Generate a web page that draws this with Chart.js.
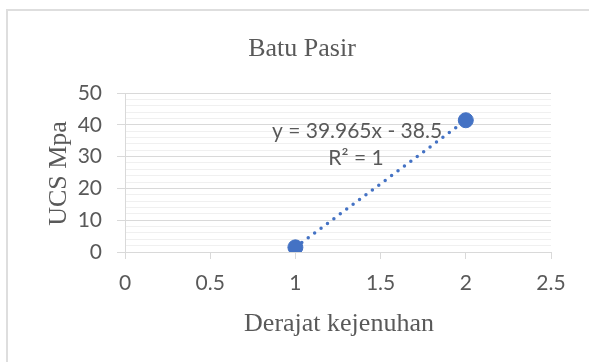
<!DOCTYPE html>
<html>
<head>
<meta charset="utf-8">
<script src="https://cdn.jsdelivr.net/npm/chart.js@4.4.0/dist/chart.umd.min.js"></script>
<style>
  html, body { margin: 0; padding: 0; background: #fff; }
  #wrap { position: relative; width: 589px; height: 362px; overflow: hidden; }
  #frame { position: absolute; left: 6px; top: 9px; width: 700px; height: 500px;
           border-left: 2px solid #dedede; border-top: 2px solid #dedede; }
  canvas { position: absolute; left: 0; top: 0; }
</style>
</head>
<body>
<div id="wrap">
  <div id="frame"></div>
  <canvas id="ucsChart" width="589" height="362"></canvas>
</div>
<script>
// data
const saturation = [1, 2];
const ucsValues = [1.465, 41.43];
const trendLabel = 'y = 39.965x - 38.5';
const r2Label = 'R² = 1';
const xTicks = [0, 0.5, 1, 1.5, 2, 2.5];
const yMajorTicks = [0, 10, 20, 30, 40, 50];

const points = saturation.map((x, i) => ({ x: x, y: ucsValues[i] }));

const labelFont = "Lato, 'Open Sans', sans-serif";
const serifFont = "'Liberation Serif', 'Times New Roman', serif";
const textGray = '#595959';

// titles and the trendline equation, drawn on the canvas
const chartTexts = {
    id: 'chartTexts',
    afterDatasetsDraw(chart) {
        const ctx = chart.ctx;
        const area = chart.chartArea;
        ctx.save();
        ctx.fillStyle = textGray;
        ctx.textAlign = 'center';
        ctx.textBaseline = 'alphabetic';

        ctx.font = '26px ' + serifFont;
        ctx.fillText('Batu Pasir', 302, 56);
        ctx.fillText('Derajat kejenuhan', 339, 331);
        ctx.save();
        ctx.translate(66, (area.top + area.bottom) / 2 + 1);
        ctx.rotate(-Math.PI / 2);
        ctx.fillText('UCS Mpa', 0, 0);
        ctx.restore();

        ctx.font = '21px ' + labelFont;
        ctx.fillText(trendLabel, area.left + 232, 138);
        ctx.fillText(r2Label, area.left + 231, 165);
        ctx.restore();
    }
};

const ctx = document.getElementById('ucsChart').getContext('2d');
const ucsChart = new Chart(ctx, {
    type: 'scatter',
    data: {
        datasets: [{
            label: 'Trend',
            data: points,
            showLine: true,
            borderColor: '#4472c4',
            borderWidth: 3.5,
            borderDash: [0, 8],
            borderCapStyle: 'round',
            pointRadius: 0,
            order: 2
        }, {
            label: 'UCS',
            data: points,
            backgroundColor: '#4472c4',
            borderColor: '#4472c4',
            pointRadius: 7.5,
            order: 1
        }]
    },
    options: {
        responsive: false,
        animation: false,
        layout: {
            padding: { left: 0, right: 38, top: 93, bottom: 0 }
        },
        plugins: {
            legend: { display: false },
            tooltip: { enabled: false },
            title: { display: false }
        },
        scales: {
            x: {
                type: 'linear',
                min: 0,
                max: 2.5,
                afterBuildTicks: function(scale) {
                    scale.ticks = xTicks.map(v => ({ value: v }));
                },
                afterFit: function(scale) { scale.height = 110; },
                border: { color: '#d9d9d9', width: 1 },
                grid: {
                    drawOnChartArea: false,
                    drawTicks: true,
                    tickLength: 7,
                    tickColor: '#d9d9d9'
                },
                ticks: {
                    color: textGray,
                    font: { family: labelFont, size: 21 },
                    padding: 12,
                    callback: function(value) { return String(value); }
                }
            },
            y: {
                type: 'linear',
                min: 0,
                max: 50,
                afterBuildTicks: function(scale) {
                    const list = [];
                    for (let v = 0; v <= 50; v += 2) list.push({ value: v });
                    scale.ticks = list;
                },
                afterFit: function(scale) { scale.width = 125; },
                border: { color: '#d9d9d9', width: 1 },
                grid: {
                    color: function(c) {
                        return yMajorTicks.includes(c.tick.value) ? '#d9d9d9' : '#f0f0f0';
                    },
                    tickColor: function(c) {
                        return yMajorTicks.includes(c.tick.value) ? '#d9d9d9' : 'rgba(0,0,0,0)';
                    },
                    tickLength: 8
                },
                ticks: {
                    color: textGray,
                    font: { family: labelFont, size: 21 },
                    padding: 15,
                    autoSkip: false,
                    callback: function(value) {
                        return yMajorTicks.includes(value) ? String(value) : '';
                    }
                }
            }
        }
    },
    plugins: [chartTexts]
});
</script>
</body>
</html>
